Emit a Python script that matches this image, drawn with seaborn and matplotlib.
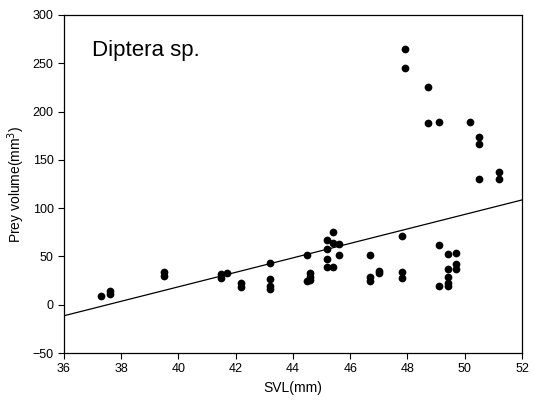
import numpy as np
import pandas as pd
import seaborn as sns
from matplotlib import pyplot as plt

# SVL (mm) and prey volume (mm^3)
svl = [37.3, 37.6, 37.6, 39.5, 39.5, 41.5, 41.5, 41.7, 42.2, 42.2,
       43.2, 43.2, 43.2, 43.2, 44.5, 44.6, 44.6, 44.5, 44.6,
       45.4, 45.2, 45.4, 45.6, 45.2, 45.6, 45.2, 45.2, 45.4,
       46.7, 46.7, 46.7, 47.0, 47.0, 47.8, 47.8, 47.8,
       49.1, 49.1, 49.4, 49.4, 49.4, 49.4, 49.4, 49.7, 49.7, 49.7,
       47.9, 47.9, 48.7, 48.7, 49.1, 50.2, 50.5, 50.5, 50.5, 51.2, 51.2]
volume = [9.3, 13.8, 10.8, 33.4, 30, 32, 27.9, 32.7, 23, 18.3,
          43, 26.5, 19, 16, 51, 32.7, 28.6, 24.8, 26,
          75, 67, 64, 62.7, 58, 51.6, 47.5, 38.6, 38.6,
          51, 28.6, 25, 34.8, 33, 71.6, 34.4, 28.2,
          62, 19, 52.7, 37.5, 28.6, 22.4, 19.6, 54, 42.4, 37.5,
          264.8, 245.5, 225.5, 187.7, 189.7, 189.7, 174, 166, 130.5, 137, 130.5]

# regression line end points
fit_x = [36, 52]
fit_y = [-11.4, 108.5]

df = pd.DataFrame({'svl': svl, 'volume': volume})

sns.set_style('ticks')
plt.rcParams['font.family'] = ['Liberation Sans', 'DejaVu Sans']
plt.rcParams['text.color'] = 'black'
plt.rcParams['axes.labelcolor'] = 'black'

fig = plt.figure(figsize=(5.35, 4.03), dpi=100)
ax = fig.add_axes([0.1196, 0.124, 0.8561, 0.8388])

sns.scatterplot(data=df, x='svl', y='volume', ax=ax, color='black',
                s=31, edgecolor='black', linewidth=0, zorder=3)
sns.lineplot(x=fit_x, y=fit_y, ax=ax, color='black', linewidth=0.9)

ax.set_xlim(36, 52)
ax.set_ylim(-50, 300)
ax.set_xticks(range(36, 53, 2))
ax.set_yticks(range(-50, 301, 50))
ax.tick_params(direction='out', length=4, width=0.8, labelsize=9,
               colors='black')
for sp in ax.spines.values():
    sp.set_color('black')
    sp.set_linewidth(0.9)

ax.set_xlabel('SVL(mm)', fontsize=10)
ax.set_ylabel('Prey volume(mm$^3$)', fontsize=10)
ax.text(0.061, 0.896, 'Diptera sp.', transform=ax.transAxes,
        fontsize=16, va='center', ha='left')

fig.savefig('out.png', dpi=100)
